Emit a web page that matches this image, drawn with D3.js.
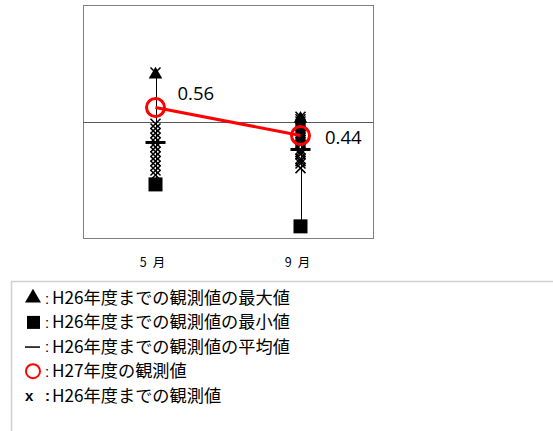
<!DOCTYPE html>
<html>
<head>
<meta charset="utf-8">
<script src="https://cdn.jsdelivr.net/npm/d3@7"></script>
<style>
  body { margin: 0; background: #fff; }
  svg { display: block; }
</style>
</head>
<body>
<div id="chart"></div>
<script>
// data
const months = ["5\u2002月", "9\u2002月"];
const maxVals = [0.71, 0.52];
const minVals = [0.23, 0.05];
const meanVals = [0.41, 0.38];
const h27Vals = [0.56, 0.44];
const pastMay = [0.71, 0.49, 0.47, 0.45, 0.43, 0.41, 0.39, 0.37, 0.35, 0.33, 0.31, 0.29, 0.27];
const pastSep = [0.52, 0.51, 0.50, 0.49, 0.48, 0.47, 0.46, 0.45, 0.44, 0.43, 0.42, 0.41, 0.40, 0.38, 0.37, 0.36, 0.34, 0.33, 0.32, 0.30];
const refLine = 0.5;
const legendItems = [
  { sym: "tri", label: "H26年度までの観測値の最大値" },
  { sym: "sq", label: "H26年度までの観測値の最小値" },
  { sym: "bar", label: "H26年度までの観測値の平均値" },
  { sym: "circ", label: "H27年度の観測値" },
  { sym: "x", label: "H26年度までの観測値" }
];

const width = 553, height = 431;
const margin = { top: 5, left: 83, right: 180, bottom: 193 };
const plotW = width - margin.left - margin.right; // 290
const plotH = height - margin.top - margin.bottom; // 233

const svg = d3.select("#chart").append("svg")
  .attr("width", width)
  .attr("height", height);

const x = d3.scaleBand()
  .domain(months)
  .range([margin.left, margin.left + plotW]);

const y = d3.scaleLinear()
  .domain([0, 1])
  .range([margin.top + plotH, margin.top]);

const cx = (i) => x(months[i]) + x.bandwidth() / 2;

// frame
svg.append("rect")
  .attr("x", margin.left + 0.5)
  .attr("y", margin.top + 0.5)
  .attr("width", plotW)
  .attr("height", plotH)
  .attr("fill", "none")
  .attr("stroke", "#7f7f7f")
  .attr("stroke-width", 1);

// reference line
svg.append("line")
  .attr("x1", margin.left)
  .attr("x2", margin.left + plotW)
  .attr("y1", Math.round(y(refLine)) + 0.5)
  .attr("y2", Math.round(y(refLine)) + 0.5)
  .attr("stroke", "#595959")
  .attr("stroke-width", 1);

// range lines
svg.selectAll(".range")
  .data(months)
  .enter()
  .append("line")
  .attr("class", "range")
  .attr("x1", (d, i) => Math.round(cx(i)) + 0.5)
  .attr("x2", (d, i) => Math.round(cx(i)) + 0.5)
  .attr("y1", (d, i) => y(maxVals[i]))
  .attr("y2", (d, i) => y(minVals[i]))
  .attr("stroke", "#000")
  .attr("stroke-width", 1);

// past observations (x marks)
const pastAll = [];
pastMay.forEach((v) => pastAll.push({ i: 0, v: v }));
pastSep.forEach((v) => pastAll.push({ i: 1, v: v }));

svg.selectAll(".past")
  .data(pastAll)
  .enter()
  .append("path")
  .attr("class", "past")
  .attr("transform", (d) => `translate(${cx(d.i)},${y(d.v)})`)
  .attr("d", "M-5,-5L5,5M5,-5L-5,5")
  .attr("stroke", "#000")
  .attr("stroke-width", 1.5)
  .attr("fill", "none");

// max triangles
svg.selectAll(".max")
  .data(maxVals)
  .enter()
  .append("path")
  .attr("class", "max")
  .attr("transform", (d, i) => `translate(${cx(i)},${y(d) + 2})`)
  .attr("d", d3.symbol().type(d3.symbolTriangle).size(80))
  .attr("fill", "#000");

// min squares
svg.selectAll(".min")
  .data(minVals)
  .enter()
  .append("rect")
  .attr("class", "min")
  .attr("x", (d, i) => cx(i) - 7)
  .attr("y", (d) => y(d) - 7)
  .attr("width", 14)
  .attr("height", 14)
  .attr("fill", "#000");

// mean bars
svg.selectAll(".mean")
  .data(meanVals)
  .enter()
  .append("rect")
  .attr("class", "mean")
  .attr("x", (d, i) => cx(i) - 10)
  .attr("y", (d) => y(d) - 1.5)
  .attr("width", 20)
  .attr("height", 3)
  .attr("fill", "#000");

// H27 line + circles
svg.append("path")
  .datum(h27Vals)
  .attr("fill", "none")
  .attr("stroke", "#ff0000")
  .attr("stroke-width", 3)
  .attr("d", d3.line()
    .x((d, i) => cx(i))
    .y((d) => y(d)));

svg.selectAll(".h27")
  .data(h27Vals)
  .enter()
  .append("circle")
  .attr("class", "h27")
  .attr("cx", (d, i) => cx(i))
  .attr("cy", (d) => y(d))
  .attr("r", 9)
  .attr("fill", "none")
  .attr("stroke", "#ff0000")
  .attr("stroke-width", 3);

// value labels
const labelDx = [22, 24.5];
const labelDy = [-8, 8.5];
svg.selectAll(".vlabel")
  .data(h27Vals)
  .enter()
  .append("text")
  .attr("class", "vlabel")
  .attr("x", (d, i) => cx(i) + labelDx[i])
  .attr("y", (d, i) => y(d) + labelDy[i])
  .attr("font-family", "'Open Sans', 'Noto Sans', sans-serif")
  .attr("font-size", 18.5)
  .attr("fill", "#000")
  .text((d) => d.toFixed(2));

// x axis labels
svg.selectAll(".xlabel")
  .data(months)
  .enter()
  .append("text")
  .attr("class", "xlabel")
  .attr("x", (d, i) => cx(i) - 3)
  .attr("y", 267)
  .attr("text-anchor", "middle")
  .attr("font-family", "'Noto Sans CJK JP', sans-serif")
  .attr("font-size", 12.5)
  .attr("fill", "#000")
  .text((d) => d);

// legend box
svg.append("rect")
  .attr("x", 11.5)
  .attr("y", 281.5)
  .attr("width", 560)
  .attr("height", 160)
  .attr("fill", "none")
  .attr("stroke", "#d0d0d0")
  .attr("stroke-width", 1.5);

const leg = svg.selectAll(".leg")
  .data(legendItems)
  .enter()
  .append("g")
  .attr("class", "leg")
  .attr("transform", (d, i) => `translate(0,${298 + i * 24.4})`);

// legend symbols
leg.filter((d) => d.sym === "tri")
  .append("path")
  .attr("transform", "translate(33,0)")
  .attr("d", d3.symbol().type(d3.symbolTriangle).size(110))
  .attr("fill", "#000");

leg.filter((d) => d.sym === "sq")
  .append("rect")
  .attr("x", 27).attr("y", -6.5)
  .attr("width", 13).attr("height", 13)
  .attr("fill", "#000");

leg.filter((d) => d.sym === "bar")
  .append("rect")
  .attr("x", 25).attr("y", -0.5)
  .attr("width", 15).attr("height", 1.5)
  .attr("fill", "#000");

leg.filter((d) => d.sym === "circ")
  .append("circle")
  .attr("cx", 33).attr("cy", 0).attr("r", 7)
  .attr("fill", "none")
  .attr("stroke", "#ff0000")
  .attr("stroke-width", 2);

leg.filter((d) => d.sym === "x")
  .append("text")
  .attr("x", 25)
  .attr("y", 5)
  .attr("font-family", "'Liberation Sans', sans-serif")
  .attr("font-size", 15)
  .attr("font-weight", "bold")
  .text("x");

leg.append("text")
  .attr("x", 45)
  .attr("y", 5.5)
  .attr("font-family", "'Liberation Sans', sans-serif")
  .attr("font-size", 15)
  .attr("font-weight", (d) => d.sym === "x" ? "bold" : "normal")
  .attr("fill", "#000")
  .text(":");

leg.append("text")
  .attr("x", 52)
  .attr("y", 6)
  .attr("font-family", "'Noto Sans CJK JP', sans-serif")
  .attr("font-size", 17.2)
  .attr("fill", "#000")
  .text((d) => d.label);
</script>
</body>
</html>
